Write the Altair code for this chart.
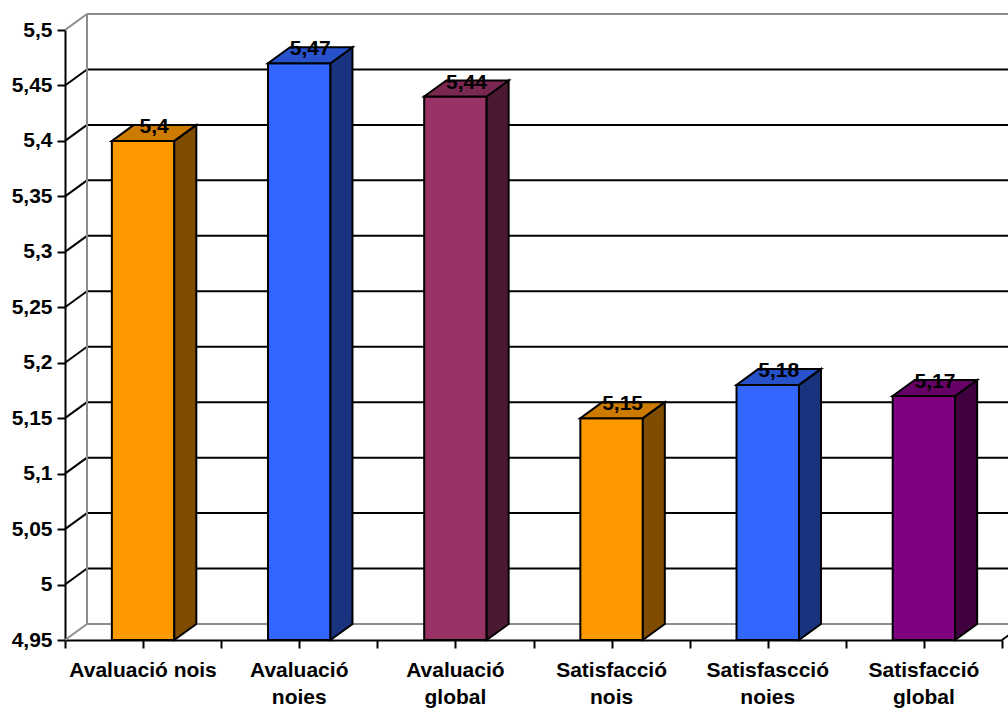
import altair as alt
import pandas as pd

# ---- data -------------------------------------------------------------
categories = [
    "Avaluació nois",
    "Avaluació noies",
    "Avaluació global",
    "Satisfacció nois",
    "Satisfascció noies",
    "Satisfacció global",
]
# wrapped versions used for the category labels under the axis
category_lines = [
    "Avaluació nois",
    "Avaluació\nnoies",
    "Avaluació\nglobal",
    "Satisfacció\nnois",
    "Satisfascció\nnoies",
    "Satisfacció\nglobal",
]
values = [5.40, 5.47, 5.44, 5.15, 5.18, 5.17]
front_colors = ["#FF9900", "#3366FF", "#993366", "#FF9900", "#3366FF", "#800080"]
y_ticks = [4.95, 5.0, 5.05, 5.1, 5.15, 5.2, 5.25, 5.3, 5.35, 5.4, 5.45, 5.5]

# ---- geometry / style --------------------------------------------------
W, H = 937, 610
Y_MIN, Y_MAX = 4.95, 5.5
N = len(categories)
DX = 22 / W * N                  # depth of the 3D effect, in x units
DY = 16 / H * (Y_MAX - Y_MIN)    # depth of the 3D effect, in y units
HALF = 0.2                       # half bar width, in category units
FONT = "Liberation Sans"
GRAY = "#8C8C8C"


def shade(hex_color, k):
    r, g, b = (int(hex_color[i:i + 2], 16) for i in (1, 3, 5))
    return "#{:02X}{:02X}{:02X}".format(int(r * k), int(g * k), int(b * k))


def comma(v):
    return "{:g}".format(v).replace(".", ",")


# ---- tables -------------------------------------------------------------
fronts, sides, tops, labels, cats = [], [], [], [], []
for i, (v, c) in enumerate(zip(values, front_colors)):
    l, r = i + 0.5 - HALF, i + 0.5 + HALF
    fronts.append({"bar": i, "x": l, "x2": r, "y": Y_MIN, "y2": v, "fill": c})
    sides.append({"bar": i, "x": r, "y": Y_MIN, "y2": v, "fill": shade(c, 0.5)})
    sides.append({"bar": i, "x": r + DX, "y": Y_MIN + DY, "y2": v + DY, "fill": shade(c, 0.5)})
    tops.append({"bar": i, "y": v, "x": l, "x2": r, "fill": shade(c, 0.8)})
    tops.append({"bar": i, "y": v + DY, "x": l + DX, "x2": r + DX, "fill": shade(c, 0.8)})
    labels.append({"x": i + 0.5 + DX / 2, "y": v + DY / 2, "text": comma(v)})
    cats.append({"x": i + 0.5, "text": category_lines[i]})

walls = []
for t in y_ticks:
    edge = t in (Y_MIN, Y_MAX)
    col = GRAY if edge else "black"
    # back-wall gridline
    walls.append({"x": DX, "x2": N + DX, "y": t + DY, "y2": t + DY, "c": col})
    # side-wall diagonal
    walls.append({"x": 0, "x2": DX, "y": t, "y2": t + DY, "c": col})
# back-wall left edge and floor right edge
walls.append({"x": DX, "x2": DX, "y": Y_MIN + DY, "y2": Y_MAX + DY, "c": GRAY})
walls.append({"x": N, "x2": N + DX, "y": Y_MIN, "y2": Y_MIN + DY, "c": "black"})

fronts, sides, tops = pd.DataFrame(fronts), pd.DataFrame(sides), pd.DataFrame(tops)
labels, cats, walls = pd.DataFrame(labels), pd.DataFrame(cats), pd.DataFrame(walls)

# ---- scales / axes ------------------------------------------------------
xs = alt.Scale(domain=[0, N], nice=False, zero=False)
ys = alt.Scale(domain=[Y_MIN, Y_MAX], nice=False, zero=False)

x_axis = alt.Axis(
    values=[k / 2 for k in range(2 * N + 1)], labels=False, title=None, grid=False,
    domainColor="black", domainWidth=2, tickColor="black", tickWidth=2, tickSize=8,
)
y_axis = alt.Axis(
    values=y_ticks, title=None, grid=False,
    labelExpr="replace(toString(round(datum.value * 100) / 100), '.', ',')",
    labelFont=FONT, labelFontSize=21, labelFontWeight="bold", labelColor="black",
    labelPadding=5, domainColor="black", domainWidth=2, tickColor="black",
    tickWidth=2, tickSize=8,
)

# ---- layers ------------------------------------------------------------
wall_layer = alt.Chart(walls).mark_rule(strokeWidth=2).encode(
    x=alt.X("x:Q", scale=xs, axis=x_axis),
    x2="x2:Q",
    y=alt.Y("y:Q", scale=ys, axis=y_axis),
    y2="y2:Q",
    stroke=alt.Stroke("c:N", scale=None),
)

front_layer = alt.Chart(fronts).mark_bar(stroke="black", strokeWidth=2, strokeJoin="miter").encode(
    x=alt.X("x:Q", scale=xs),
    x2="x2:Q",
    y=alt.Y("y:Q", scale=ys),
    y2="y2:Q",
    fill=alt.Fill("fill:N", scale=None),
)

side_layer = alt.Chart(sides).mark_area(
    orient="vertical", stroke="black", strokeWidth=2, strokeJoin="miter"
).encode(
    x=alt.X("x:Q", scale=xs),
    y=alt.Y("y:Q", scale=ys),
    y2="y2:Q",
    detail="bar:N",
    fill=alt.Fill("fill:N", scale=None),
)

top_layer = alt.Chart(tops).mark_area(
    orient="horizontal", stroke="black", strokeWidth=2, strokeJoin="miter"
).encode(
    y=alt.Y("y:Q", scale=ys),
    x=alt.X("x:Q", scale=xs),
    x2="x2:Q",
    detail="bar:N",
    fill=alt.Fill("fill:N", scale=None),
)

value_layer = alt.Chart(labels).mark_text(
    font=FONT, fontSize=21, fontWeight="bold", color="black",
    align="center", baseline="alphabetic",
).encode(
    x=alt.X("x:Q", scale=xs),
    y=alt.Y("y:Q", scale=ys),
    text="text:N",
)

cat_layer = alt.Chart(cats).mark_text(
    font=FONT, fontSize=21, fontWeight="bold", color="black",
    align="center", baseline="alphabetic", lineBreak="\n", lineHeight=27,
).encode(
    x=alt.X("x:Q", scale=xs),
    y=alt.value(H + 37),
    text="text:N",
)

chart = alt.layer(
    wall_layer, front_layer, side_layer, top_layer, value_layer, cat_layer
).properties(
    width=W,
    height=H,
    padding={"left": 65, "top": 30, "right": 6, "bottom": 69},
    autosize=alt.AutoSizeParams(type="none"),
    background="white",
).configure_view(stroke=None)

chart.save("out.html", embed_options={"renderer": "svg", "actions": False})
